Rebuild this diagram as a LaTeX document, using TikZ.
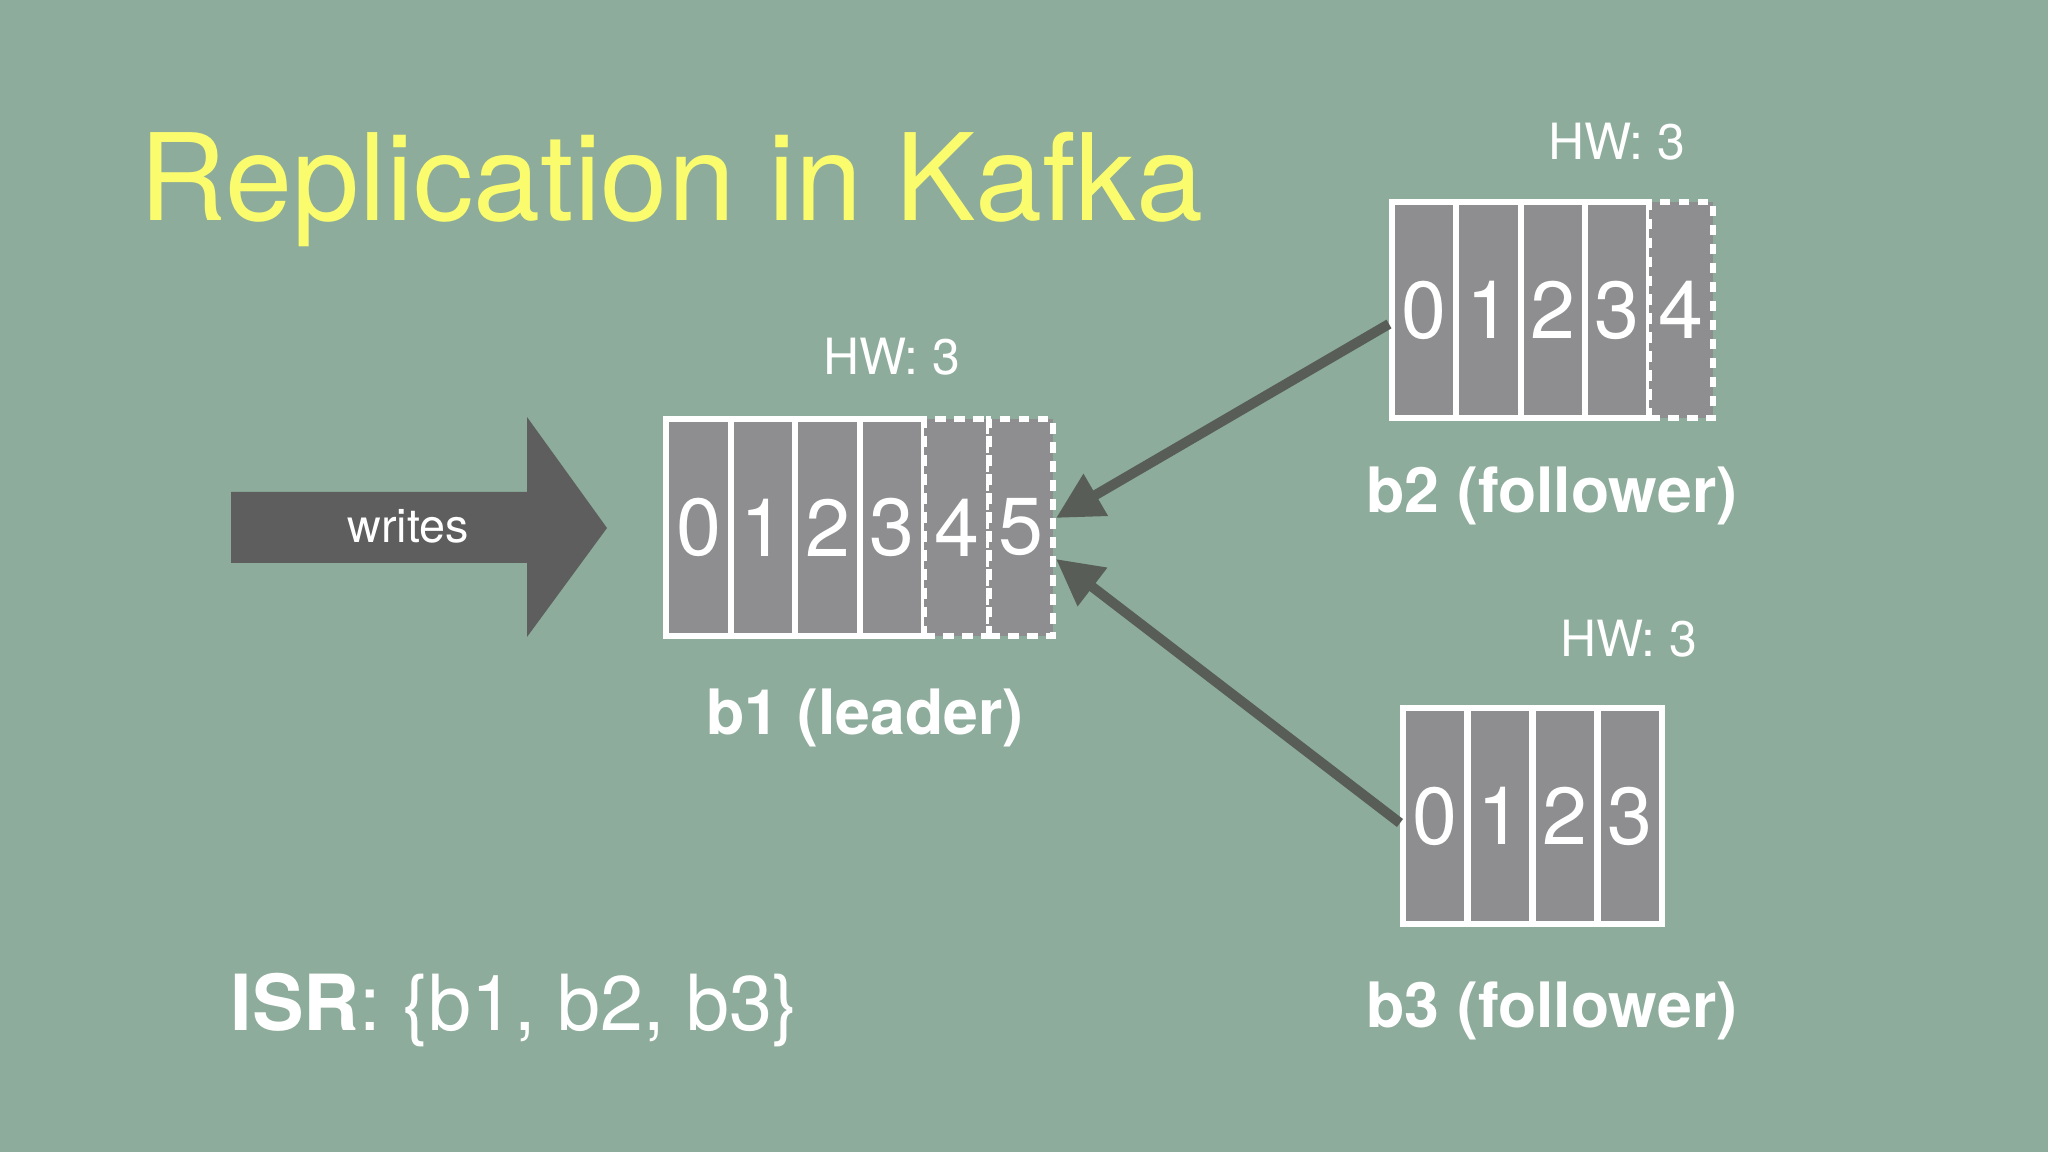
\documentclass[tikz,border=0pt]{standalone}
\usepackage{fontspec}
\setmainfont{TeX Gyre Heros}
\usetikzlibrary{arrows.meta}
\definecolor{bgcol}{RGB}{141,172,155}
\definecolor{cellcol}{RGB}{142,142,144}
\definecolor{titlecol}{RGB}{250,252,110}
\definecolor{bigarrow}{RGB}{94,94,94}
\definecolor{linkcol}{RGB}{88,93,87}
\begin{document}
\begin{tikzpicture}[
    cell/.style={draw=white, line width=1.7pt, fill=cellcol, text=white,
      minimum width=0.64cm, minimum height=2.16cm, inner sep=0pt,
      font=\fontsize{23}{23}\selectfont},
    newcell/.style={cell, dash pattern=on 3pt off 2.4pt},
    hw/.style={text=white, anchor=base, inner sep=0pt, font=\fontsize{14.2}{14.2}\selectfont},
    broker/.style={text=white, anchor=base, inner sep=0pt, font=\fontsize{17.8}{17.8}\selectfont\bfseries},
    link/.style={draw=linkcol, line width=0.1cm, -{Triangle[length=0.46cm,width=0.46cm]}}
  ]
  \def\x{0.01}
  \def\y{-0.01}
  \fill[bgcol] (0,0) rectangle (2048*\x, 1152*\y);
  \node[anchor=base west, inner sep=0pt, text=titlecol, font=\fontsize{34.3}{34.3}\selectfont] (title) at (139*\x, 221*\y) {Replication in Kafka};
  % producer arrow
  \fill[bigarrow] (231*\x, 492*\y) -- (527*\x, 492*\y) -- (527*\x, 417*\y) -- (607*\x, 528*\y)
    -- (527*\x, 637*\y) -- (527*\x, 563*\y) -- (231*\x, 563*\y) -- cycle;
  \node[text=white, font=\fontsize{13.3}{13.3}\selectfont] (writes) at (408*\x, 526*\y) {writes};
  % b1
  \node[cell] (B1_0) at (698.5*\x, 527.5*\y) {0};
  \node[cell] (B1_1) at (763*\x, 527.5*\y) {1};
  \node[cell] (B1_2) at (827.5*\x, 527.5*\y) {2};
  \node[cell] (B1_3) at (892*\x, 527.5*\y) {3};
  \node[newcell] (B1_4) at (956.5*\x, 527.5*\y) {4};
  \node[newcell] (B1_5) at (1021*\x, 527.5*\y) {5};
  % b2
  \node[cell] (B2_0) at (1424*\x, 310*\y) {0};
  \node[cell] (B2_1) at (1488.5*\x, 310*\y) {1};
  \node[cell] (B2_2) at (1553*\x, 310*\y) {2};
  \node[cell] (B2_3) at (1617*\x, 310*\y) {3};
  \node[newcell] (B2_4) at (1681*\x, 310*\y) {4};
  % b3
  \node[cell] (B3_0) at (1435*\x, 816*\y) {0};
  \node[cell] (B3_1) at (1500*\x, 816*\y) {1};
  \node[cell] (B3_2) at (1565*\x, 816*\y) {2};
  \node[cell] (B3_3) at (1630*\x, 816*\y) {3};
  \path (B2_0.west) ++(0,-0.14) coordinate (from2);
  \path (B3_0.west) ++(0,-0.07) coordinate (from3);
  \draw[link] (from2) -- ([yshift=0.095cm]B1_5.east);
  \draw[link] (from3) -- ([yshift=-0.315cm]B1_5.east);
  % labels
  \node[hw] (HW1) at (892*\x, 375*\y) {HW: 3};
  \node[hw] (HW2) at (1617*\x, 160*\y) {HW: 3};
  \node[hw] (HW3) at (1629*\x, 657*\y) {HW: 3};
  \node[broker] (L1) at (865*\x, 735*\y) {b1 (leader)};
  \node[broker] (L2) at (1552*\x, 513*\y) {b2 (follower)};
  \node[broker] (L3) at (1552*\x, 1028*\y) {b3 (follower)};
  \node[anchor=base west, inner sep=0pt, text=white, font=\fontsize{22}{22}\selectfont] (isr) at (230*\x, 1031*\y) {\textbf{ISR}: \{b1, b2, b3\}};
\end{tikzpicture}
\end{document}
